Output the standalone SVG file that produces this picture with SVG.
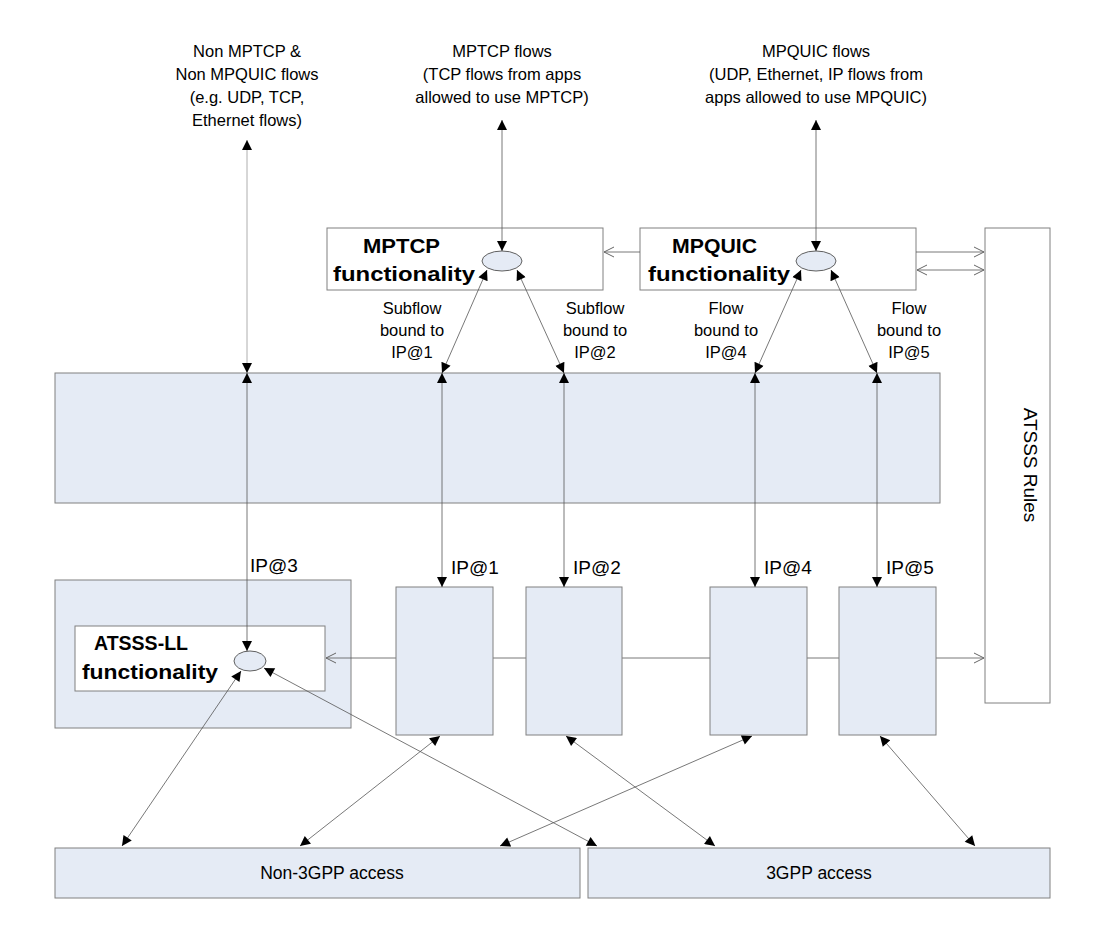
<svg xmlns="http://www.w3.org/2000/svg" width="1101" height="926" viewBox="0 0 1101 926">
<style>
.t{font-family:"Liberation Sans",Arial,sans-serif;font-size:16.5px;fill:#000;text-anchor:middle}
.b{font-family:"Liberation Sans",Arial,sans-serif;font-size:21px;font-weight:bold;fill:#000}
.blue{fill:#e5ebf5;stroke:#808080;stroke-width:1}
.white{fill:#fff;stroke:#808080;stroke-width:1}
.ell{fill:#e5ebf5;stroke:#606060;stroke-width:1}
.c{stroke:#555;stroke-width:0.8;fill:none}
.g{stroke:#999;stroke-width:0.8;fill:none}
</style>
<defs>
<marker id="a" viewBox="0 0 10 10" refX="10" refY="5" markerWidth="15" markerHeight="10" markerUnits="userSpaceOnUse" orient="auto-start-reverse"><path d="M0,0 L10,5 L0,10 z" fill="#000"/></marker>
<marker id="o" viewBox="0 0 10 10" refX="10" refY="5" markerWidth="10" markerHeight="12" markerUnits="userSpaceOnUse" orient="auto-start-reverse"><path d="M0,0 L10,5 L0,10" fill="none" stroke="#666" stroke-width="1"/></marker>
</defs>
<g id="bigbox"><rect class="blue" x="55" y="373" width="885" height="130"/></g>
<g id="atsss-rules"><rect class="white" x="985" y="228" width="65" height="475"/>
<text class="t" transform="translate(1024,465) rotate(90)" style="font-size:19px">ATSSS Rules</text></g>
<g id="ue-ll"><rect class="blue" x="55" y="580" width="296" height="148"/></g>
<g id="connectors-back">
<line class="c" x1="395" y1="658" x2="326" y2="658" marker-end="url(#o)"/>
<line class="c" x1="395" y1="658" x2="984" y2="658" marker-end="url(#o)"/>
</g>
<g id="ip1"><rect class="blue" x="396" y="587" width="97" height="148"/></g>
<g id="ip2"><rect class="blue" x="526" y="587" width="96" height="148"/></g>
<g id="ip4"><rect class="blue" x="710" y="587" width="97" height="148"/></g>
<g id="ip5"><rect class="blue" x="839" y="587" width="97" height="148"/></g>
<g id="atsss-ll"><rect class="white" x="75" y="626" width="250" height="65"/>
<text class="b" x="94" y="650" textLength="94" lengthAdjust="spacingAndGlyphs">ATSSS-LL</text><text class="b" x="82" y="679" textLength="136" lengthAdjust="spacingAndGlyphs">functionality</text>
<ellipse class="ell" cx="250" cy="661" rx="16" ry="10"/></g>
<g id="mptcp"><rect class="white" x="327" y="228" width="276" height="62"/>
<text class="b" x="363" y="253" textLength="77" lengthAdjust="spacingAndGlyphs">MPTCP</text><text class="b" x="333" y="281" textLength="142" lengthAdjust="spacingAndGlyphs">functionality</text>
<ellipse class="ell" cx="502" cy="261" rx="20" ry="10"/></g>
<g id="mpquic"><rect class="white" x="640" y="228" width="276" height="62"/>
<text class="b" x="672" y="253" textLength="85" lengthAdjust="spacingAndGlyphs">MPQUIC</text><text class="b" x="648" y="281" textLength="142" lengthAdjust="spacingAndGlyphs">functionality</text>
<ellipse class="ell" cx="816" cy="261" rx="20" ry="10"/></g>
<g id="non3gpp"><rect class="blue" x="55" y="848" width="525" height="50"/><text class="t" x="332" y="879" style="font-size:17.5px">Non-3GPP access</text></g>
<g id="3gpp"><rect class="blue" x="588" y="848" width="462" height="50"/><text class="t" x="819" y="879" style="font-size:17.5px">3GPP access</text></g>
<g id="connectors">
<line class="g" x1="247" y1="140" x2="247" y2="373" marker-start="url(#a)" marker-end="url(#a)"/>
<line class="c" x1="247" y1="373" x2="247" y2="651" marker-start="url(#a)" marker-end="url(#a)"/>
<line class="c" x1="502" y1="120" x2="502" y2="251" marker-start="url(#a)" marker-end="url(#a)"/>
<line class="c" x1="816" y1="120" x2="816" y2="251" marker-start="url(#a)" marker-end="url(#a)"/>
<line class="c" x1="487" y1="270" x2="442" y2="373" marker-start="url(#a)" marker-end="url(#a)"/>
<line class="c" x1="517" y1="270" x2="564" y2="373" marker-start="url(#a)" marker-end="url(#a)"/>
<line class="c" x1="801" y1="270" x2="755" y2="373" marker-start="url(#a)" marker-end="url(#a)"/>
<line class="c" x1="831" y1="270" x2="877" y2="373" marker-start="url(#a)" marker-end="url(#a)"/>
<line class="c" x1="442" y1="373" x2="442" y2="587" marker-start="url(#a)" marker-end="url(#a)"/>
<line class="c" x1="564" y1="373" x2="564" y2="587" marker-start="url(#a)" marker-end="url(#a)"/>
<line class="c" x1="755" y1="373" x2="755" y2="587" marker-start="url(#a)" marker-end="url(#a)"/>
<line class="c" x1="877" y1="373" x2="877" y2="587" marker-start="url(#a)" marker-end="url(#a)"/>
<line class="c" x1="640" y1="252" x2="604" y2="252" marker-end="url(#o)"/>
<line class="c" x1="916" y1="252" x2="984" y2="252" marker-end="url(#o)"/>
<line class="c" x1="917" y1="270" x2="984" y2="270" marker-start="url(#o)" marker-end="url(#o)"/>
<line class="c" x1="241" y1="671" x2="122" y2="846" marker-start="url(#a)" marker-end="url(#a)"/>
<line class="c" x1="264" y1="668" x2="597" y2="846" marker-start="url(#a)" marker-end="url(#a)"/>
<line class="c" x1="440" y1="736" x2="300" y2="846" marker-start="url(#a)" marker-end="url(#a)"/>
<line class="c" x1="566" y1="736" x2="715" y2="846" marker-start="url(#a)" marker-end="url(#a)"/>
<line class="c" x1="752" y1="736" x2="500" y2="846" marker-start="url(#a)" marker-end="url(#a)"/>
<line class="c" x1="880" y1="736" x2="975" y2="846" marker-start="url(#a)" marker-end="url(#a)"/>
</g>
<g id="labels">
<text class="t" x="247" y="57">Non MPTCP &amp;</text>
<text class="t" x="247" y="80">Non MPQUIC flows</text>
<text class="t" x="247" y="103">(e.g. UDP, TCP,</text>
<text class="t" x="247" y="126">Ethernet flows)</text>
<text class="t" x="502" y="57">MPTCP flows</text>
<text class="t" x="502" y="80">(TCP flows from apps</text>
<text class="t" x="502" y="103">allowed to use MPTCP)</text>
<text class="t" x="816" y="57">MPQUIC flows</text>
<text class="t" x="816" y="80">(UDP, Ethernet, IP flows from</text>
<text class="t" x="816" y="103">apps allowed to use MPQUIC)</text>
<text class="t" x="412" y="314">Subflow</text><text class="t" x="412" y="336">bound to</text><text class="t" x="412" y="358">IP@1</text>
<text class="t" x="595" y="314">Subflow</text><text class="t" x="595" y="336">bound to</text><text class="t" x="595" y="358">IP@2</text>
<text class="t" x="726" y="314">Flow</text><text class="t" x="726" y="336">bound to</text><text class="t" x="726" y="358">IP@4</text>
<text class="t" x="909" y="314">Flow</text><text class="t" x="909" y="336">bound to</text><text class="t" x="909" y="358">IP@5</text>
<g style="font-family:'Liberation Sans',Arial,sans-serif;font-size:19px">
<text x="250" y="572">IP@3</text>
<text x="451" y="574">IP@1</text>
<text x="573" y="574">IP@2</text>
<text x="764" y="574">IP@4</text>
<text x="886" y="574">IP@5</text>
</g>
</g>
</svg>
